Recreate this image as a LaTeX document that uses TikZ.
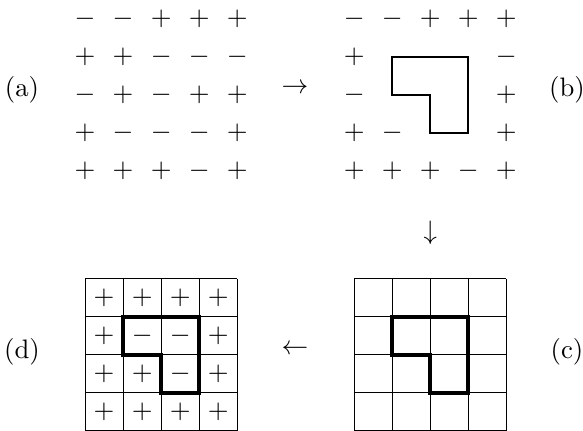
\documentclass[tikz,border=0pt]{standalone}
\usepackage{amsmath}
\usepackage{tikz}

\begin{document}
\begin{tikzpicture}[x=0.5cm, y=-0.5cm,
  sign/.style={inner sep=0pt},
  tag/.style={inner sep=0pt},
  cellline/.style={line width=0.4pt},
  cutline/.style={line width=0.8pt},
  bigcut/.style={line width=1.6pt}
]
  \useasboundingbox (0,0) rectangle (15.34,11.34);

  % (a) plain signs
  \begin{scope}[shift={(2.24,0.5)}]
    \foreach \row [count=\j from 0] in {{-,-,+,+,+},{+,+,-,-,-},{-,+,-,+,+},{+,-,-,-,+},{+,+,+,-,+}}
      \foreach \s [count=\i from 0] in \row
        \node[sign] (a-\i-\j) at (\i,\j) {$\s$};
  \end{scope}

  % (b) signs with the loop cut out
  \begin{scope}[shift={(9.32,0.5)}]
    \foreach \row [count=\j from 0] in {{-,-,+,+,+},{+,.,.,.,-},{-,.,.,.,+},{+,-,.,.,+},{+,+,+,-,+}}
      \foreach \s [count=\i from 0] in \row
        {\if.\s\else\node[sign] (b-\i-\j) at (\i,\j) {$\s$};\fi}
    \draw[cutline] (1,1) -- (3,1) -- (3,3) -- (2,3) -- (2,2) -- (1,2) -- cycle;
  \end{scope}

  % (c) empty cells
  \begin{scope}[shift={(9.32,7.34)}]
    \foreach \k in {0,...,4} {
      \draw[cellline] (\k,0) -- (\k,4);
      \draw[cellline] (0,\k) -- (4,\k);
    }
    \draw[bigcut] (1,1) -- (3,1) -- (3,3) -- (2,3) -- (2,2) -- (1,2) -- cycle;
  \end{scope}

  % (d) filled cells
  \begin{scope}[shift={(2.24,7.34)}]
    \foreach \k in {0,...,4} {
      \draw[cellline] (\k,0) -- (\k,4);
      \draw[cellline] (0,\k) -- (4,\k);
    }
    \foreach \row [count=\j from 0] in {{+,+,+,+},{+,-,-,+},{+,+,-,+},{+,+,+,+}}
      \foreach \s [count=\i from 0] in \row
        \node[sign] (d-\i-\j) at (\i+0.5,\j+0.5) {$\s$};
    \draw[bigcut] (1,1) -- (3,1) -- (3,3) -- (2,3) -- (2,2) -- (1,2) -- cycle;
  \end{scope}

  \node[tag] (tag-a) at (0.58,2.37) {(a)};
  \node[tag] (tag-b) at (14.92,2.37) {(b)};
  \node[tag] (tag-c) at (14.92,9.25) {(c)};
  \node[tag] (tag-d) at (0.58,9.25) {(d)};

  \node[tag] (step-ab) at (7.76,2.33) {$\rightarrow$};
  \node[tag] (step-bc) at (11.32,6.13) {$\downarrow$};
  \node[tag] (step-cd) at (7.76,9.2) {$\leftarrow$};
\end{tikzpicture}
\end{document}
